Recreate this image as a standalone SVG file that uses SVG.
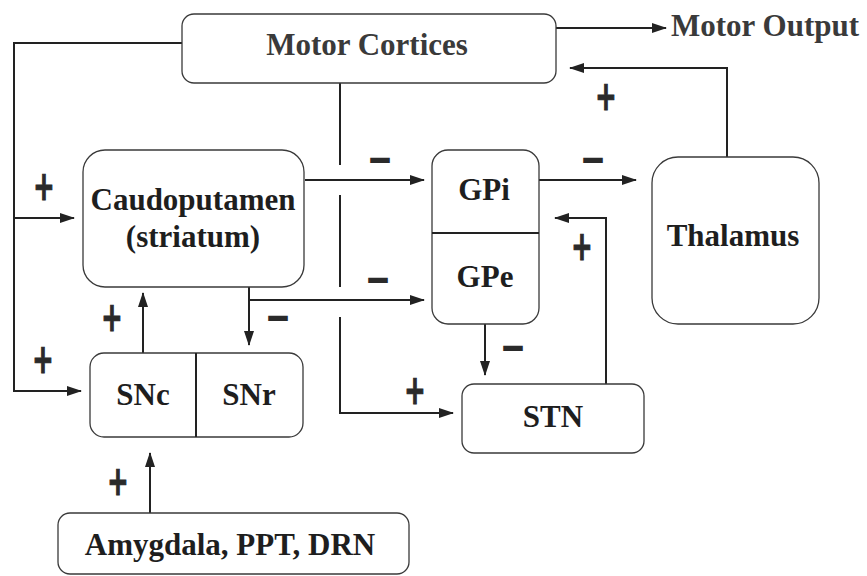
<svg xmlns="http://www.w3.org/2000/svg" width="867" height="576" viewBox="0 0 867 576">
<style>
.box{fill:#fff;stroke:#3a3a3a;stroke-width:1.3}
.div{stroke:#222;stroke-width:2}
.lbl{font-family:"Liberation Serif","Times New Roman",serif;font-weight:bold;font-size:31px;fill:#1e1e1e;text-anchor:middle}
.lt{font-family:"Liberation Serif","Times New Roman",serif;font-weight:bold;font-size:31px;fill:#3a3a3a}
.c{fill:none;stroke:#222;stroke-width:2}
.a{marker-end:url(#ah)}
.s{font-family:"DejaVu Sans","Liberation Sans",sans-serif;font-weight:bold;fill:#2a2a2a;stroke:#2a2a2a;text-anchor:middle}
.p{font-size:30px;stroke-width:0.9}
.m{font-size:28px;stroke-width:2}
</style>
<defs>
<marker id="ah" markerUnits="userSpaceOnUse" markerWidth="16" markerHeight="12" refX="14" refY="5" orient="auto">
<path d="M0,0 L15,5 L0,10 z" fill="#222"/>
</marker>
</defs>
<rect width="867" height="576" fill="#fff"/>
<g id="connectors">
<path class="c a" d="M556,28 H666"/>
<path class="c a" d="M182,43 H14 V391 H81"/>
<path class="c a" d="M14,218 H74"/>
<path class="c" d="M340,83 V165"/>
<path class="c" d="M340,195 V287"/>
<path class="c a" d="M340,317 V413 H453"/>
<path class="c a" d="M305,180 H424"/>
<path class="c a" d="M249,287 V345"/>
<path class="c a" d="M249,300 H424"/>
<path class="c a" d="M143,353 V293"/>
<path class="c a" d="M539,180 H636"/>
<path class="c a" d="M727,157 V68 H570"/>
<path class="c a" d="M485,324 V375"/>
<path class="c a" d="M606,384 V218 H555"/>
<path class="c a" d="M150,513 V453"/>
</g>
<g id="signs">
<text class="s p" transform="translate(44,200) scale(0.85,1.35)">+</text>
<text class="s p" transform="translate(43,373) scale(0.85,1.35)">+</text>
<text class="s p" transform="translate(112,331) scale(0.85,1.35)">+</text>
<text class="s p" transform="translate(606,110) scale(0.85,1.35)">+</text>
<text class="s p" transform="translate(582,260) scale(0.85,1.35)">+</text>
<text class="s p" transform="translate(415,404) scale(0.85,1.35)">+</text>
<text class="s p" transform="translate(118,495) scale(0.85,1.35)">+</text>
<text class="s m" x="380" y="169">−</text>
<text class="s m" x="378" y="289">−</text>
<text class="s m" x="278" y="327">−</text>
<text class="s m" x="593" y="169">−</text>
<text class="s m" x="513" y="357">−</text>
</g>
<g id="motor-cortices">
<rect class="box" x="182" y="14" width="374" height="69" rx="12"/>
<text class="lt" x="367" y="55" text-anchor="middle">Motor Cortices</text>
</g>
<g id="motor-output">
<text class="lt" x="671" y="36">Motor Output</text>
</g>
<g id="caudoputamen">
<rect class="box" x="83" y="150" width="221" height="137" rx="22"/>
<text class="lbl" x="193" y="210">Caudoputamen</text>
<text class="lbl" x="193" y="247">(striatum)</text>
</g>
<g id="gp">
<rect class="box" x="432" y="150" width="107" height="174" rx="16"/>
<line class="div" x1="432" y1="233" x2="539" y2="233"/>
<text class="lbl" x="484" y="200">GPi</text>
<text class="lbl" x="485" y="287">GPe</text>
</g>
<g id="thalamus">
<rect class="box" x="652" y="157" width="167" height="167" rx="26"/>
<text class="lbl" x="733" y="246">Thalamus</text>
</g>
<g id="sn">
<rect class="box" x="90" y="353" width="213" height="84" rx="14"/>
<line class="div" x1="196" y1="353" x2="196" y2="437"/>
<text class="lbl" x="143" y="405">SNc</text>
<text class="lbl" x="249" y="405">SNr</text>
</g>
<g id="stn">
<rect class="box" x="462" y="384" width="182" height="69" rx="12"/>
<text class="lbl" x="553" y="427">STN</text>
</g>
<g id="amygdala">
<rect class="box" x="58" y="513" width="351" height="61" rx="12"/>
<text class="lbl" x="230" y="555">Amygdala, PPT, DRN</text>
</g>
</svg>
